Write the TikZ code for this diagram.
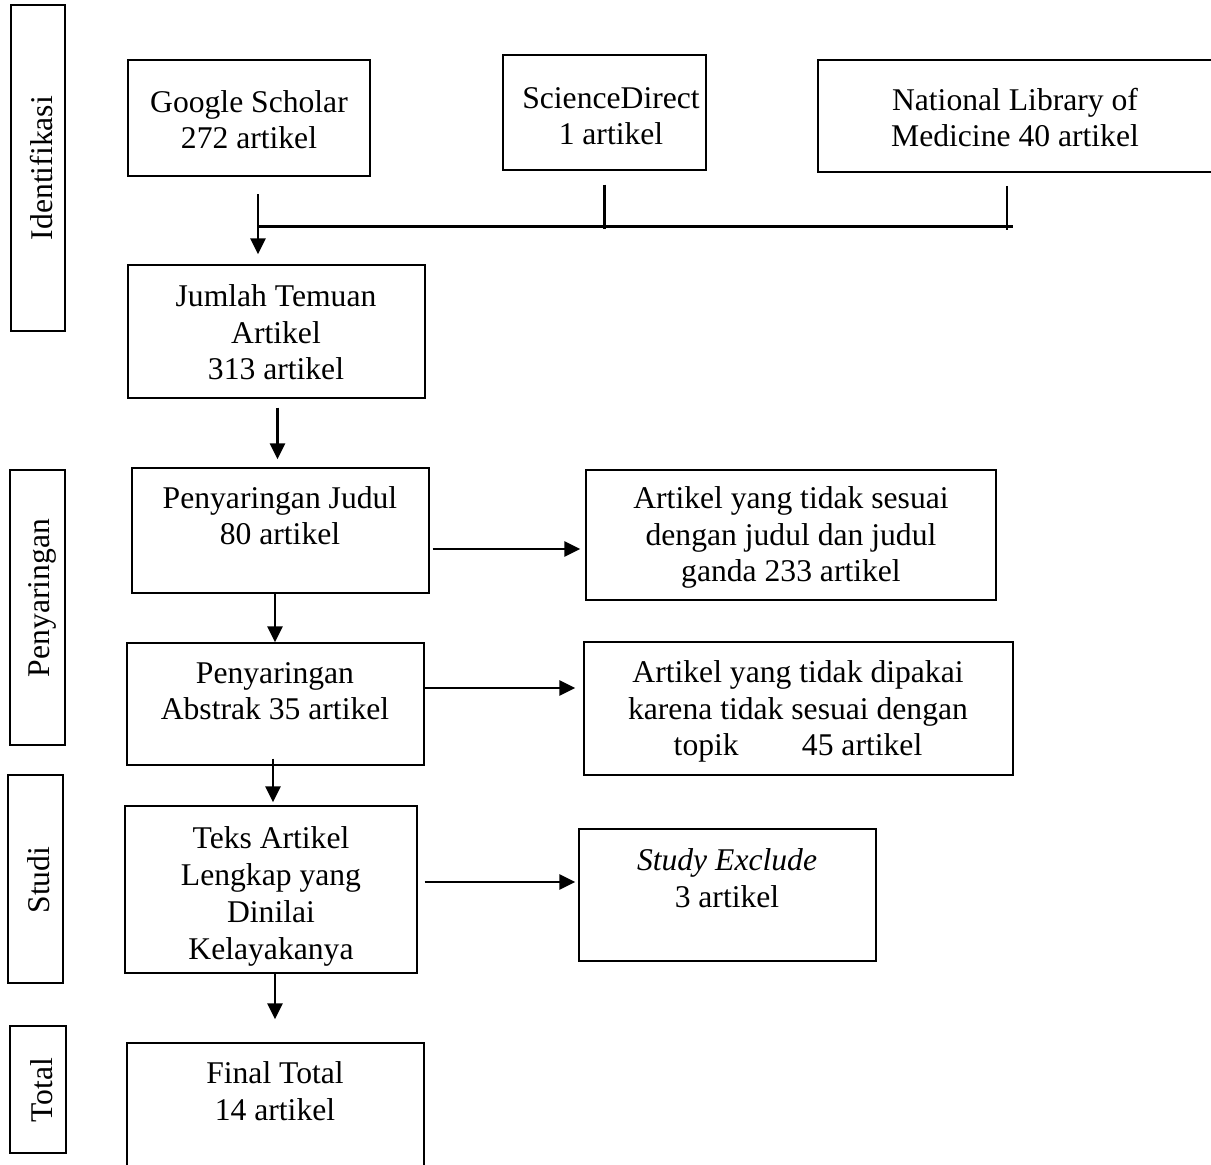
\documentclass[tikz,border=0pt]{standalone}
\usepackage{fontspec}
\setmainfont{Liberation Serif}
\usetikzlibrary{arrows.meta,fit,calc}
\begin{document}
\begin{tikzpicture}[x=0.02cm,y=-0.02cm,
  bx/.style={draw=black,line width=0.75pt,inner sep=0pt},
  txt/.style={align=center,inner sep=0pt,anchor=base,font=\fontsize{18pt}{21pt}\selectfont},
  side/.style={rotate=90,inner sep=0pt,anchor=base,font=\fontsize{18pt}{21pt}\selectfont},
  conn/.style={line width=1.5pt},
  arr/.style={line width=1.5pt,-{Triangle[length=0.32cm,width=0.3cm]}}]
\useasboundingbox (0,0) rectangle (1211,1165);
\clip (0,0) rectangle (1211,1165);
% side label boxes
\node[bx,fit={(11,5) (65,331)}] (l1) {};
\node[side] (l1t) at (52,168) {Identifikasi};
\node[bx,fit={(10,470) (65,745)}] (l2) {};
\node[side] (l2t) at (50,598) {Penyaringan};
\node[bx,fit={(8,775) (63,983)}] (l3) {};
\node[side] (l3t) at (50,880) {Studi};
\node[bx,fit={(10,1026) (66,1153)}] (l4) {};
\node[side] (l4t) at (52,1090) {Total};
% source boxes
\node[bx,fit={(128,60) (370,176)}] (gs) {};
\node[txt] (gst) at (249,149) {Google Scholar\\272 artikel};
\node[bx,fit={(503,55) (706,170)}] (sd) {};
\node[txt] (sdt) at (611,145) {ScienceDirect\\1 artikel};
\node[bx,fit={(818,60) (1214,172)}] (nlm) {};
\node[txt] (nlmt) at (1015,147) {National Library of\\Medicine 40 artikel};
% main flow
\node[bx,fit={(128,265) (425,398)}] (jt) {};
\node[txt] (jtt) at (276,380) {Jumlah Temuan\\Artikel\\313 artikel};
\node[bx,fit={(132,468) (429,593)}] (pj) {};
\node[txt] (pjt) at (280,545) {Penyaringan Judul\\80 artikel};
\node[bx,fit={(127,643) (424,765)}] (pa) {};
\node[txt] (pat) at (275,720) {Penyaringan\\Abstrak 35 artikel};
\node[bx,fit={(125,806) (417,973)}] (tk) {};
\node[txt] (tkt) at (271,959) {Teks Artikel\\Lengkap yang\\Dinilai\\Kelayakanya};
\node[bx,fit={(127,1043) (424,1180)}] (ft) {};
\node[txt] (ftt) at (275,1120) {Final Total\\14 artikel};
% exclusion boxes
\node[bx,fit={(586,470) (996,600)}] (ex1) {};
\node[txt] (ex1t) at (791,582) {Artikel yang tidak sesuai\\dengan judul dan judul\\ganda 233 artikel};
\node[bx,fit={(584,642) (1013,775)}] (ex2) {};
\node[txt] (ex2t) at (798,756) {Artikel yang tidak dipakai\\karena tidak sesuai dengan\\topik\hspace{36pt}45 artikel};
\node[bx,fit={(579,829) (876,961)}] (ex3) {};
\node[txt] (ex3t) at (727,907) {\textit{Study Exclude}\\3 artikel};
% merge connector
\coordinate (mL) at (258,226.5);
\coordinate (mR) at (1013,226.5);
\draw[conn] (mL) -- (mR);
\draw[conn] ($(sd.south)+(0,14)$) -- ($(sd.south |- mL)+(0,3)$);
\draw[conn] (1007,186) -- ($(1007,226.5)+(0,4)$);
\draw[arr] ($(mL)+(0,-32)$) -- ($(jt.north -| mL)+(0,-10)$);
% vertical arrows
\draw[arr] ($(jt.south)+(1,9)$) -- ($(pj.north -| jt.south)+(1,-8)$);
\draw[arr] (pj.south -| 275,0) -- (pa.north -| 275,0);
\draw[arr] ($(pa.south -| 273,0)+(0,-7)$) -- ($(tk.north -| 273,0)+(0,-3)$);
\draw[arr] (tk.south -| 275,0) -- ($(ft.north -| 275,0)+(0,-23)$);
% horizontal arrows
\draw[arr] ($(pj.east |- 0,549)+(3,0)$) -- ($(ex1.west |- 0,549)+(-5,0)$);
\draw[arr] (pa.east |- 0,688) -- ($(ex2.west |- 0,688)+(-8,0)$);
\draw[arr] ($(tk.east |- 0,882)+(7,0)$) -- ($(ex3.west |- 0,882)+(-3,0)$);
\end{tikzpicture}
\end{document}
